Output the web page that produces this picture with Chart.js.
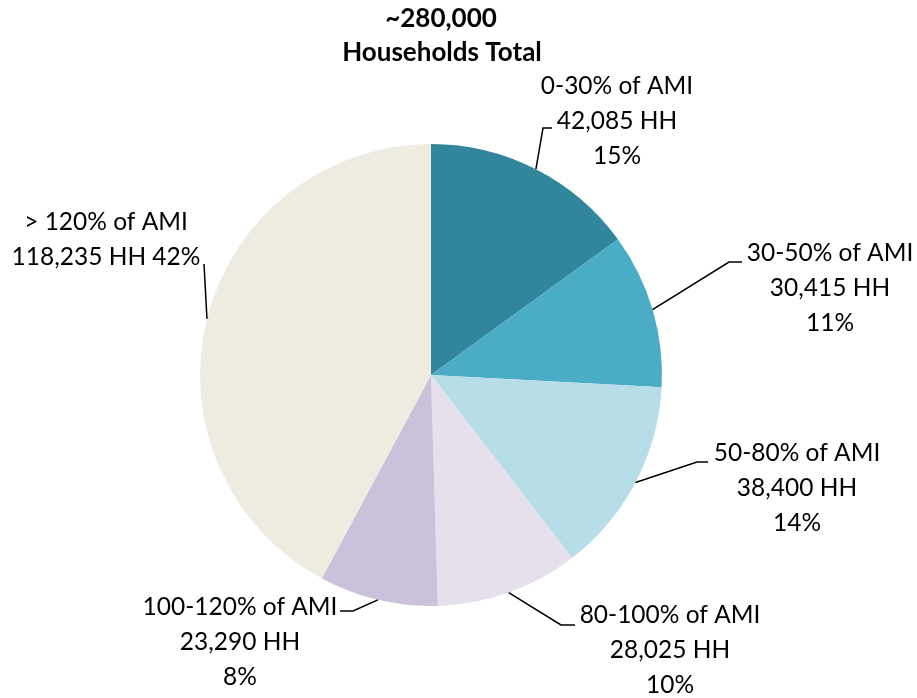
<!DOCTYPE html>
<html>
<head>
<meta charset="utf-8">
<script src="https://cdn.jsdelivr.net/npm/chart.js@4.4.1/dist/chart.umd.min.js"></script>
<style>
  html, body { margin: 0; padding: 0; background: #fff; }
  #wrap { width: 917px; height: 698px; position: relative; }
</style>
</head>
<body>
<div id="wrap"><canvas id="cht"></canvas></div>
<script>
// data
const categories = ['0-30% of AMI', '30-50% of AMI', '50-80% of AMI', '80-100% of AMI', '100-120% of AMI', '> 120% of AMI'];
const households = [42085, 30415, 38400, 28025, 23290, 118235];
const percents = [15, 11, 14, 10, 8, 42];
const sliceColors = ['#31859C', '#4BACC6', '#B7DEE8', '#E6E0EC', '#CCC1DA', '#EEECE1'];
const titleLines = ['~280,000', 'Households Total'];

// where each label sits: elbow of the leader line, end of the short tail, text centre and first line y
const labelLayout = [
    { elbow: [543, 128], tail: [552, 128], tx: 617, ty: 86 },
    { elbow: [729, 262], tail: [742, 262], tx: 830, ty: 253 },
    { elbow: [697, 462], tail: [708, 462], tx: 797, ty: 453 },
    { elbow: [561, 625], tail: [575, 625], tx: 670, ty: 615 },
    { elbow: [353, 611], tail: [340, 611], tx: 240, ty: 607 },
    { elbow: [204, 264], tail: [204, 264], tx: 106, ty: 222, twoLines: true }
];

const FONT = 'Lato, "Open Sans", sans-serif';

function fmt(n) {
    return n.toLocaleString('en-US');
}

const labelPlugin = {
    id: 'pieLabels',
    afterDraw(chart) {
        const ctx = chart.ctx;
        const meta = chart.getDatasetMeta(0);
        ctx.save();

        // title
        ctx.fillStyle = '#000';
        ctx.textAlign = 'center';
        ctx.textBaseline = 'middle';
        ctx.font = 'bold 26px ' + FONT;
        ctx.fillText(titleLines[0], 441, 19);
        ctx.fillText(titleLines[1], 442, 53);

        meta.data.forEach((arc, i) => {
            const p = arc.getProps(['x', 'y', 'startAngle', 'endAngle', 'outerRadius'], true);
            const mid = (p.startAngle + p.endAngle) / 2;
            const sx = p.x + Math.cos(mid) * p.outerRadius;
            const sy = p.y + Math.sin(mid) * p.outerRadius;
            const lay = labelLayout[i];

            ctx.strokeStyle = '#000';
            ctx.lineWidth = 1.5;
            ctx.beginPath();
            ctx.moveTo(sx, sy);
            ctx.lineTo(lay.elbow[0], lay.elbow[1]);
            ctx.lineTo(lay.tail[0], lay.tail[1]);
            ctx.stroke();

            ctx.font = '24.5px ' + FONT;
            ctx.fillStyle = '#000';
            let lines;
            if (lay.twoLines) {
                lines = [categories[i], fmt(households[i]) + ' HH ' + percents[i] + '%'];
            } else {
                lines = [categories[i], fmt(households[i]) + ' HH', percents[i] + '%'];
            }
            lines.forEach((t, k) => {
                ctx.fillText(t, lay.tx, lay.ty + k * 35);
            });
        });
        ctx.restore();
    }
};

const cht = document.getElementById('cht');
const chart = new Chart(cht, {
    type: 'pie',
    data: {
        labels: categories,
        datasets: [{
            data: households,
            backgroundColor: sliceColors,
            borderWidth: 0
        }]
    },
    options: {
        responsive: true,
        maintainAspectRatio: false,
        animation: false,
        layout: {
            padding: { left: 200, right: 255, top: 144, bottom: 92 }
        },
        plugins: {
            legend: { display: false },
            tooltip: { enabled: false },
            title: { display: false }
        }
    },
    plugins: [labelPlugin]
});
</script>
</body>
</html>
